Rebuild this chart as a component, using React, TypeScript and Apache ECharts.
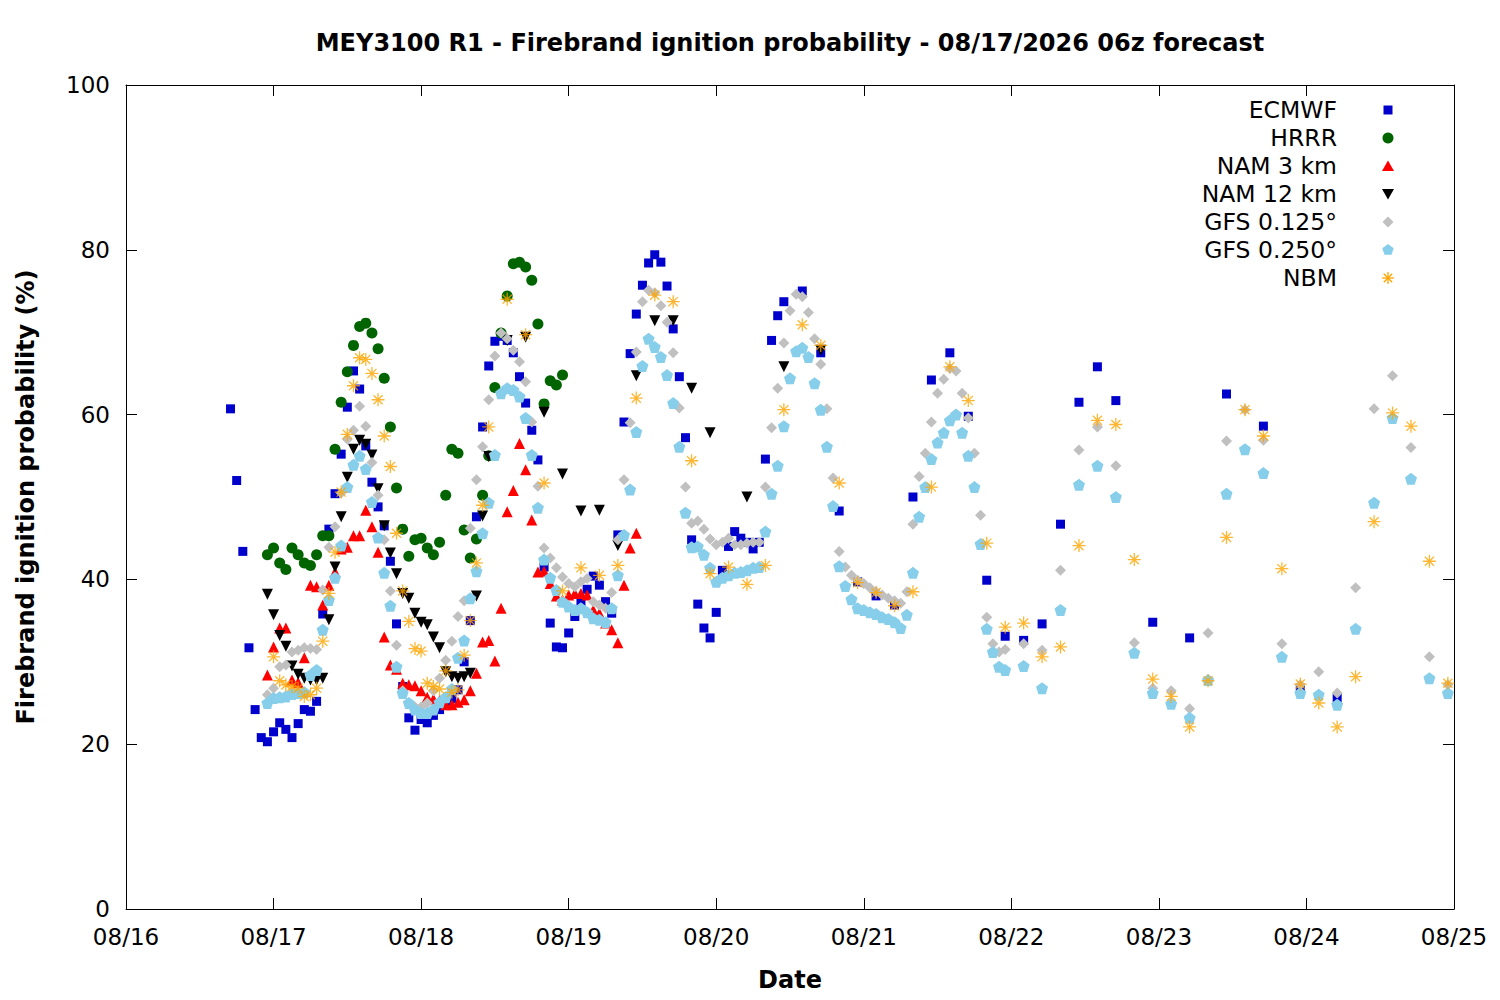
import React, { useEffect, useRef } from "react";
import * as echarts from "echarts";

const dateLabels = ["08/16", "08/17", "08/18", "08/19", "08/20", "08/21", "08/22", "08/23", "08/24", "08/25"];
const yTicks = [0, 20, 40, 60, 80, 100];
const titleText = "MEY3100 R1 - Firebrand ignition probability - 08/17/2026 06z forecast";
const seriesNames = ["ECMWF", "HRRR", "NAM 3 km", "NAM 12 km", "GFS 0.125°", "GFS 0.250°", "NBM"];

// [hours since 08/16 00z, probability %]
const ecmwf = [
  [17, 60.7], [18, 52], [19, 43.4], [20, 31.7], [21, 24.2], [22, 20.8], [23, 20.3], [24, 21.5], [25, 22.6], [26, 21.8],
  [27, 20.8], [28, 22.5], [29, 24.2], [30, 24], [31, 25.2], [32, 35.8], [33, 46.1], [34, 50.4], [35, 55.2], [36, 60.9],
  [37, 65.3], [38, 63.1], [39, 56.2], [40, 51.8], [41, 48.8], [42, 46.5], [43, 42.2], [44, 34.6], [45, 27], [46, 23.2],
  [47, 21.7], [48, 23], [49, 22.6], [50, 23.5], [51, 24.2], [52, 25], [53, 25.5], [54, 26.6], [55, 30], [56, 35],
  [57, 47.6], [58, 58.5], [59, 65.9], [60, 68.9], [61, 69.5], [62, 69], [63, 67.5], [64, 64.6], [65, 61.4], [66, 58.1],
  [67, 54.5], [68, 41.5], [69, 34.7], [70, 31.8], [71, 31.7], [72, 33.5], [73, 35.5], [74, 37.3], [75, 38.8], [76, 40.4],
  [77, 39.3], [78, 37.3], [79, 35.9], [80, 45.4], [81, 59.1], [82, 67.4], [83, 72.2], [84, 75.7], [85, 78.4], [86, 79.4],
  [87, 78.5], [88, 75.6], [89, 70.4], [90, 64.6], [91, 57.2], [92, 44.8], [93, 37], [94, 34.1], [95, 32.9], [96, 36],
  [97, 41.1], [98, 44], [99, 45.8], [100, 45], [101, 44.5], [102, 43.7], [103, 44.5], [104, 54.6], [105, 69], [106, 72],
  [107, 73.7], [110, 75], [113, 67.5], [116, 48.3], [119, 39.7], [122, 38], [125, 36.9], [128, 50], [131, 64.2], [134, 67.5],
  [137, 59.8], [140, 39.9], [143, 33.1], [146, 32.6], [149, 34.6], [152, 46.7], [155, 61.5], [158, 65.8], [161, 61.7],
  [167, 34.8], [173, 32.9], [179, 62.5], [185, 58.6], [191, 26.8], [197, 25.6],
];

const hrrr = [
  [23, 43], [24, 43.8], [25, 42], [26, 41.2], [27, 43.8], [28, 43], [29, 42], [30, 41.7], [31, 43], [32, 45.3],
  [33, 45.3], [34, 55.8], [35, 61.5], [36, 65.2], [37, 68.4], [38, 70.7], [39, 71.1], [40, 69.9], [41, 68], [42, 64.4],
  [43, 58.5], [44, 51.1], [45, 46.1], [46, 42.8], [47, 44.8], [48, 45], [49, 43.8], [50, 43], [51, 44.5], [52, 50.2],
  [53, 55.8], [54, 55.3], [55, 46], [56, 42.6], [57, 44.9], [58, 50.2], [59, 55], [60, 63.3], [61, 69.9], [62, 74.4],
  [63, 78.3], [64, 78.5], [65, 77.9], [66, 76.3], [67, 71], [68, 61.3], [69, 64.1], [70, 63.6], [71, 64.8],
];

const nam3 = [
  [23, 28.4], [24, 31.8], [25, 34.1], [26, 34.1], [27, 27.8], [28, 27.5], [29, 30.5], [30, 39.3], [31, 39.1], [32, 36.9],
  [33, 39.3], [34, 40.9], [35, 43.7], [36, 43.9], [37, 45.3], [38, 45.3], [39, 48.4], [40, 46.4], [41, 43.3], [42, 33],
  [43, 29.6], [44, 29.1], [45, 27.4], [46, 27.2], [47, 27.1], [48, 26.5], [49, 25.7], [50, 25.5], [51, 25.3], [52, 24.8],
  [53, 24.8], [54, 25.1], [55, 25.4], [56, 26.5], [57, 28.6], [58, 32.4], [59, 32.6], [60, 30.1], [61, 36.5], [62, 48.2],
  [63, 50.8], [64, 56.5], [65, 53.3], [66, 47.2], [67, 40.9], [68, 41], [69, 39.5], [70, 38], [71, 37.5], [72, 38.1],
  [73, 38.3], [74, 38.3], [75, 38.1], [76, 36.3], [77, 35.9], [78, 34.7], [79, 33.9], [80, 32.3], [81, 39.3], [82, 43.8],
  [83, 45.6],
];

const nam12 = [
  [23, 38.2], [24, 35.7], [25, 33.2], [26, 31.9], [27, 29.5], [28, 28.5], [29, 28], [30, 27.8], [31, 27.8], [32, 28],
  [33, 35.1], [34, 41.5], [35, 47.6], [36, 52.4], [37, 55.8], [38, 56.9], [39, 56.4], [40, 55.1], [41, 51], [42, 46.5],
  [43, 43.2], [44, 40.7], [45, 38.3], [46, 37.7], [47, 35.9], [48, 34.8], [49, 34.5], [50, 33], [51, 31.7], [52, 28.8],
  [53, 28.2], [54, 28], [55, 28.2], [56, 28.6], [57, 38], [58, 47.7], [59, 54.9], [62, 69], [65, 69.4], [68, 60.3],
  [71, 52.8], [74, 48.3], [77, 48.4], [80, 44.1], [83, 64.7], [86, 71.4], [89, 71.4], [92, 63.2], [95, 57.8], [101, 50],
  [107, 65.8], [113, 67.8],
];

const gfs0125 = [
  [23, 26], [24, 26.8], [25, 29.4], [26, 29.6], [27, 31.2], [28, 31.4], [29, 31.7], [30, 31.6], [31, 31.5], [32, 38.7],
  [33, 43.9], [34, 46.4], [35, 50.5], [36, 57], [37, 58.1], [38, 61], [39, 58.6], [40, 54.2], [41, 50.2], [42, 44.8],
  [43, 38.6], [44, 32], [45, 26.5], [46, 25], [47, 24.5], [48, 24.5], [49, 25], [50, 26.5], [51, 28], [52, 30.2],
  [53, 32.5], [54, 35.5], [55, 37.4], [56, 46.2], [57, 52.1], [58, 56.1], [59, 61.8], [60, 67.1], [61, 69.9], [62, 69.2],
  [63, 67.8], [64, 66.4], [65, 64], [66, 59.1], [67, 51.3], [68, 43.8], [69, 42.6], [70, 41.4], [71, 40.3], [72, 39.5],
  [73, 39.1], [74, 39.7], [75, 40.1], [76, 37.3], [77, 36.9], [78, 36.5], [79, 38.4], [80, 44.8], [81, 52.1], [82, 59],
  [83, 67.6], [84, 73.7], [85, 75.1], [86, 74.8], [87, 73.2], [88, 71.2], [89, 67.5], [90, 60.8], [91, 51.2], [92, 46.8],
  [93, 47.1], [94, 46.1], [95, 44.9], [96, 44.2], [97, 44.5], [98, 45], [99, 44.2], [100, 44.2], [101, 44.4], [102, 44.5],
  [103, 44.5], [104, 51.2], [105, 58.4], [106, 63.2], [107, 68.7], [108, 72.6], [109, 74.6], [110, 74.3], [111, 72.4], [112, 69.2],
  [113, 66.1], [114, 60.7], [115, 52.3], [116, 43.4], [117, 41.5], [118, 40.5], [119, 39.9], [120, 39.5], [121, 39], [122, 38.5],
  [123, 38.1], [124, 37.7], [125, 37.4], [126, 37.1], [127, 38.5], [128, 46.7], [129, 52.5], [130, 55.3], [131, 59.1], [132, 62.6],
  [133, 64.3], [134, 65.6], [135, 65.3], [136, 62.6], [137, 59.6], [138, 55.3], [139, 47.8], [140, 35.4], [141, 32.2], [142, 31.2],
  [143, 31.5], [146, 32.2], [149, 31.4], [152, 41.1], [155, 55.7], [158, 58.5], [161, 53.8], [164, 32.3], [167, 26.8], [170, 26.5],
  [173, 24.3], [176, 33.5], [179, 56.8], [182, 60.6], [185, 56.9], [188, 32.2], [191, 27.2], [194, 28.8], [197, 26.2], [200, 39],
  [203, 60.7], [206, 64.7], [209, 56], [212, 30.6], [215, 27.2],
];

const gfs0250 = [
  [23, 25], [24, 25.6], [25, 25.7], [26, 25.8], [27, 26.1], [28, 26.2], [29, 26.3], [30, 28.4], [31, 29], [32, 33.9],
  [33, 37.5], [34, 40.2], [35, 44.1], [36, 51.2], [37, 53.9], [38, 55], [39, 53.4], [40, 49.4], [41, 45.1], [42, 40.8],
  [43, 36.8], [44, 29.4], [45, 26.2], [46, 25], [47, 24.2], [48, 23.8], [49, 23.8], [50, 24.2], [51, 25.1], [52, 25.7],
  [53, 26.7], [54, 30.5], [55, 32.6], [56, 37.7], [57, 41], [58, 45.6], [59, 49.3], [60, 55.1], [61, 62.6], [62, 63.2],
  [63, 63], [64, 62.2], [65, 59.6], [66, 55.1], [67, 48.7], [68, 42.4], [69, 40.2], [70, 38.7], [71, 37.3], [72, 36.7],
  [73, 36.3], [74, 36.5], [75, 36], [76, 35.3], [77, 35.1], [78, 34.8], [79, 36.5], [80, 40.5], [81, 45.4], [82, 50.9],
  [83, 57.9], [84, 65.9], [85, 69.2], [86, 68.2], [87, 67], [88, 64.8], [89, 61.4], [90, 56.1], [91, 48.1], [92, 43.9],
  [93, 44], [94, 43], [95, 41.4], [96, 39.7], [97, 40.2], [98, 40.5], [99, 40.8], [100, 40.9], [101, 41.1], [102, 41.4],
  [103, 41.5], [104, 45.8], [105, 50.4], [106, 53.8], [107, 58.6], [108, 64.4], [109, 67.7], [110, 68.1], [111, 67], [112, 63.8],
  [113, 60.6], [114, 56.1], [115, 48.9], [116, 41.6], [117, 39.2], [118, 37.6], [119, 36.5], [120, 36.3], [121, 36], [122, 35.8],
  [123, 35.4], [124, 35.2], [125, 34.8], [126, 34.1], [127, 35.7], [128, 40.8], [129, 47.6], [130, 51.2], [131, 54.6], [132, 56.6],
  [133, 57.8], [134, 59.3], [135, 60], [136, 57.8], [137, 55], [138, 51.2], [139, 44.3], [140, 34], [141, 31.2], [142, 29.4],
  [143, 29], [146, 29.5], [149, 26.8], [152, 36.3], [155, 51.5], [158, 53.8], [161, 50], [164, 31.1], [167, 26.2], [170, 24.9],
  [173, 23.2], [176, 27.8], [179, 50.4], [182, 55.8], [185, 52.9], [188, 30.6], [191, 26.2], [194, 26], [197, 24.8], [200, 34],
  [203, 49.3], [206, 59.6], [209, 52.2], [212, 28], [215, 26.2],
];

const nbm = [
  [24, 30.6], [25, 27.7], [26, 27.2], [27, 27], [28, 26.8], [29, 25.8], [30, 26], [31, 26.8], [32, 32.5], [33, 38.3],
  [34, 43.3], [35, 50.6], [36, 57.6], [37, 63.5], [38, 66.9], [39, 66.7], [40, 65], [41, 61.8], [42, 57.4], [43, 53.7],
  [44, 45.6], [45, 38.6], [46, 34.9], [47, 31.6], [48, 31.3], [49, 27.4], [50, 27], [51, 26.7], [52, 28.9], [53, 26.3],
  [54, 26.6], [55, 30.8], [56, 35], [57, 42], [58, 49], [59, 58.5], [62, 74], [65, 69.7], [68, 51.7], [71, 38.6],
  [74, 41.4], [77, 40.5], [80, 41.7], [83, 62], [86, 74.5], [89, 73.7], [92, 54.4], [95, 40.7], [98, 41.5], [101, 39.4],
  [104, 41.7], [107, 60.6], [110, 70.9], [113, 68.4], [116, 51.7], [119, 39.6], [122, 38.4], [125, 36.8], [128, 38.5], [131, 51.2],
  [134, 65.8], [137, 61.7], [140, 44.4], [143, 34.2], [146, 34.7], [149, 30.6], [152, 31.8], [155, 44.1], [158, 59.3], [161, 58.8],
  [164, 42.4], [167, 27.9], [170, 25.8], [173, 22.1], [176, 27.7], [179, 45.1], [182, 60.6], [185, 57.4], [188, 41.3], [191, 27.3],
  [194, 25], [197, 22.1], [200, 28.2], [203, 47], [206, 60.2], [209, 58.6], [212, 42.2], [215, 27.4],
];

const FONT = "DejaVu Sans";
const DOWN_TRI = "path://M0,0L10,0L5,9Z";
const PENTAGON = "path://M5,0L10,3.63L8.09,9.51L1.91,9.51L0,3.63Z";
const ASTERISK = "path://M0,5L10,5M5,0L5,10M1.5,1.5L8.5,8.5M8.5,1.5L1.5,8.5";

const styles = [
  { data: ecmwf, color: "#0000cd", symbol: "rect", size: 9, kind: "square" },
  { data: hrrr, color: "#006400", symbol: "circle", size: 11, kind: "circle" },
  { data: nam3, color: "#ff0000", symbol: "triangle", size: 11, kind: "up" },
  { data: nam12, color: "#000000", symbol: DOWN_TRI, size: 11, kind: "down" },
  { data: gfs0125, color: "#c0c0c0", symbol: "diamond", size: 11, kind: "diamond" },
  { data: gfs0250, color: "#87ceeb", symbol: PENTAGON, size: 12, kind: "pentagon" },
  { data: nbm, color: "#ffa500", symbol: ASTERISK, size: 13, kind: "star" },
];

function legendMarker(kind: string, color: string, cx: number, cy: number): any {
  if (kind === "square") return { type: "rect", shape: { x: cx - 4.5, y: cy - 4.5, width: 9, height: 9 }, style: { fill: color } };
  if (kind === "circle") return { type: "circle", shape: { cx, cy, r: 5.5 }, style: { fill: color } };
  if (kind === "up") return { type: "polygon", shape: { points: [[cx, cy - 5.5], [cx + 6, cy + 5], [cx - 6, cy + 5]] }, style: { fill: color } };
  if (kind === "down") return { type: "polygon", shape: { points: [[cx - 6, cy - 5], [cx + 6, cy - 5], [cx, cy + 5.5]] }, style: { fill: color } };
  if (kind === "diamond") return { type: "polygon", shape: { points: [[cx, cy - 5.5], [cx + 5.5, cy], [cx, cy + 5.5], [cx - 5.5, cy]] }, style: { fill: color } };
  if (kind === "pentagon") {
    const pts: number[][] = [];
    for (let k = 0; k < 5; k++) {
      const a = -Math.PI / 2 + (k * 2 * Math.PI) / 5;
      pts.push([cx + 6 * Math.cos(a), cy + 6 * Math.sin(a)]);
    }
    return { type: "polygon", shape: { points: pts }, style: { fill: color } };
  }
  const r = 6, d = 4.2;
  const ls = { stroke: color, lineWidth: 1.3 };
  return {
    type: "group",
    children: [
      { type: "line", shape: { x1: cx - r, y1: cy, x2: cx + r, y2: cy }, style: ls },
      { type: "line", shape: { x1: cx, y1: cy - r, x2: cx, y2: cy + r }, style: ls },
      { type: "line", shape: { x1: cx - d, y1: cy - d, x2: cx + d, y2: cy + d }, style: ls },
      { type: "line", shape: { x1: cx + d, y1: cy - d, x2: cx - d, y2: cy + d }, style: ls },
    ],
  };
}

export default function App() {
  const ref = useRef<HTMLDivElement>(null);
  useEffect(() => {
    if (!ref.current) return;
    const chart = echarts.init(ref.current, null, { renderer: "svg" });

    const axisCommon = {
      type: "value" as const,
      splitLine: { show: false },
      axisLine: { show: true, onZero: false, lineStyle: { color: "#000", width: 1 } },
      axisTick: { show: true, inside: true, length: 11, lineStyle: { color: "#000", width: 1 } },
    };

    const series = styles.map((s, i) => ({
      name: seriesNames[i],
      type: "scatter",
      data: s.data,
      symbol: s.symbol,
      symbolSize: s.size,
      itemStyle:
        s.kind === "star"
          ? { color: "rgba(0,0,0,0)", borderColor: s.color, borderWidth: 1.3 }
          : { color: s.color, opacity: 1 },
      silent: true,
      z: 2 + i * 0.01,
    }));

    const legendGraphics: any[] = [];
    styles.forEach((s, i) => {
      const cy = 110 + 28 * i;
      legendGraphics.push({
        type: "text",
        x: 1337,
        y: cy,
        style: { text: seriesNames[i], font: `23.5px '${FONT}'`, fill: "#000", textAlign: "right", textVerticalAlign: "middle" },
      });
      legendGraphics.push(legendMarker(s.kind, s.color, 1388, cy));
    });

    chart.setOption({
      animation: false,
      backgroundColor: "#fff",
      grid: { left: 126, right: 46, top: 85, bottom: 91, containLabel: false },
      xAxis: [
        {
          ...axisCommon,
          position: "bottom",
          min: 0,
          max: 216,
          interval: 24,
          axisLabel: {
            show: true,
            margin: 16,
            fontSize: 23,
            fontFamily: FONT,
            color: "#000",
            formatter: (v: number) => dateLabels[Math.round(v / 24)] ?? "",
          },
        },
        {
          ...axisCommon,
          position: "top",
          min: 0,
          max: 216,
          interval: 24,
          axisLabel: { show: false },
        },
      ],
      yAxis: [
        {
          ...axisCommon,
          position: "left",
          min: yTicks[0],
          max: yTicks[yTicks.length - 1],
          interval: 20,
          axisLabel: { show: true, margin: 16, fontSize: 23, fontFamily: FONT, color: "#000" },
        },
        {
          ...axisCommon,
          position: "right",
          min: yTicks[0],
          max: yTicks[yTicks.length - 1],
          interval: 20,
          axisLabel: { show: false },
        },
      ],
      series,
      graphic: [
        {
          type: "text",
          x: 790,
          y: 43,
          style: { text: titleText, font: `bold 24px '${FONT}'`, fill: "#000", textAlign: "center", textVerticalAlign: "middle" },
        },
        {
          type: "text",
          x: 790,
          y: 980,
          style: { text: "Date", font: `bold 24px '${FONT}'`, fill: "#000", textAlign: "center", textVerticalAlign: "middle" },
        },
        {
          type: "text",
          x: 26,
          y: 497,
          rotation: Math.PI / 2,
          style: {
            text: "Firebrand ignition probability (%)",
            font: `bold 24px '${FONT}'`,
            fill: "#000",
            textAlign: "center",
            textVerticalAlign: "middle",
          },
        },
        ...legendGraphics,
      ],
    });

    return () => chart.dispose();
  }, []);

  return <div ref={ref} style={{ position: "absolute", left: 0, top: 0, width: 1500, height: 1000 }} />;
}
